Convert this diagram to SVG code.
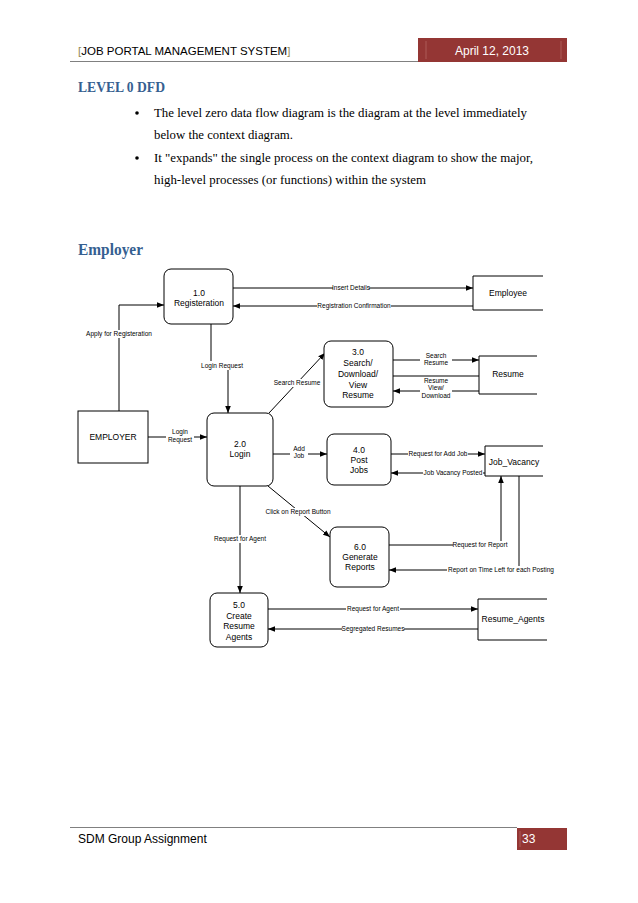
<svg xmlns="http://www.w3.org/2000/svg" width="638" height="903" viewBox="0 0 638 903">
<style>
.hdr{font-family:"Liberation Sans",Arial,sans-serif;font-size:12px;fill:#000}
.h1{font-family:"Liberation Serif","DejaVu Serif",serif;font-weight:bold;fill:#365F91}
.body{font-family:"Liberation Serif","Times New Roman",serif;font-size:13px;fill:#000}
.nt{font-family:"Liberation Sans",Arial,sans-serif;font-size:8.5px;fill:#000;text-anchor:middle}
.lb{font-family:"Liberation Sans",Arial,sans-serif;font-size:6.5px;fill:#000;text-anchor:middle}
.proc{fill:#fff;stroke:#000;stroke-width:1}
.ln{fill:none;stroke:#000;stroke-width:1}
.arr{fill:none;stroke:#000;stroke-width:1;marker-end:url(#ah)}
.bg{fill:#fff}
</style>
<defs>
<marker id="ah" viewBox="0 0 10 10" refX="10" refY="5" markerWidth="7" markerHeight="7" markerUnits="userSpaceOnUse" orient="auto">
<path d="M0,1 L10,5 L0,9 z" fill="#000"/>
</marker>
</defs>
<rect width="638" height="903" fill="#fff"/>
<g id="page-header">
<line x1="70" y1="61.5" x2="418" y2="61.5" stroke="#808080" stroke-width="1"/>
<text class="hdr" x="78" y="55" font-size="11.5" style="font-size:11.5px"><tspan fill="#948A54">[</tspan>JOB PORTAL MANAGEMENT SYSTEM<tspan fill="#948A54">]</tspan></text>
<rect x="418" y="38" width="149" height="24" fill="#943634"/>
<line x1="426" y1="41" x2="426" y2="59" stroke="#b76a68" stroke-width="0.7"/>
<line x1="561" y1="41" x2="561" y2="59" stroke="#b76a68" stroke-width="0.7"/>
<text class="hdr" x="492" y="55" text-anchor="middle" style="fill:#fff">April 12, 2013</text>
</g>
<g id="intro">
<text class="h1" x="78" y="92" font-size="15" textLength="87" lengthAdjust="spacingAndGlyphs">LEVEL 0 DFD</text>
<circle cx="137" cy="113" r="1.8" fill="#000"/>
<text class="body" x="154" y="117" textLength="373" lengthAdjust="spacingAndGlyphs">The level zero data flow diagram is the diagram at the level immediately</text>
<text class="body" x="154" y="139" textLength="139" lengthAdjust="spacingAndGlyphs">below the context diagram.</text>
<circle cx="137" cy="158" r="1.8" fill="#000"/>
<text class="body" x="154" y="162" textLength="379" lengthAdjust="spacingAndGlyphs">It "expands" the single process on the context diagram to show the major,</text>
<text class="body" x="154" y="184" textLength="272" lengthAdjust="spacingAndGlyphs">high-level processes (or functions) within the system</text>
<text class="h1" x="78" y="255" font-size="17" textLength="65" lengthAdjust="spacingAndGlyphs">Employer</text>
</g>
<g id="connectors">
<line class="arr" x1="233" y1="288" x2="473" y2="288"/>
<line class="arr" x1="473" y1="306" x2="233" y2="306"/>
<polyline class="arr" points="119,411 119,305 164,305"/>
<line class="ln" x1="211" y1="324" x2="211" y2="366"/>
<polyline class="arr" points="211,366 228,366 228,413"/>
<line class="arr" x1="148" y1="437" x2="207" y2="437"/>
<line class="arr" x1="269" y1="413" x2="325" y2="353"/>
<line class="arr" x1="393" y1="360" x2="479" y2="360"/>
<line class="ln" x1="393" y1="376" x2="479" y2="376"/>
<line class="arr" x1="479" y1="391" x2="393" y2="391"/>
<line class="arr" x1="273" y1="454" x2="327" y2="454"/>
<line class="arr" x1="391" y1="454" x2="485" y2="454"/>
<line class="arr" x1="485" y1="473" x2="391" y2="473"/>
<line class="arr" x1="268" y1="486" x2="330" y2="537"/>
<polyline class="arr" points="389,545 501,545 501,476"/>
<polyline class="arr" points="519,476 519,570 389,570"/>
<line class="arr" x1="240" y1="486" x2="240" y2="593"/>
<line class="arr" x1="268" y1="609" x2="478" y2="609"/>
<line class="arr" x1="478" y1="629" x2="268" y2="629"/>
</g>
<g id="labels">
<rect class="bg" x="333" y="284" width="36" height="7"/>
<text class="lb" x="351" y="290">Insert Details</text>
<rect class="bg" x="317" y="302" width="74" height="7"/>
<text class="lb" x="354" y="308">Registration Confirmation</text>
<rect class="bg" x="86" y="330" width="66" height="8"/>
<text class="lb" x="119" y="336">Apply for Registeration</text>
<rect class="bg" x="201" y="361" width="42" height="9"/>
<text class="lb" x="222" y="368">Login Request</text>
<rect class="bg" x="166" y="428" width="28" height="16"/>
<text class="lb" x="180" y="434">Login</text>
<text class="lb" x="180" y="442">Request</text>
<rect class="bg" x="274" y="379" width="48" height="8"/>
<text class="lb" x="297" y="385">Search Resume</text>
<rect class="bg" x="420" y="352" width="32" height="15"/>
<text class="lb" x="436" y="358">Search</text>
<text class="lb" x="436" y="365">Resume</text>
<rect class="bg" x="420" y="377" width="32" height="22"/>
<text class="lb" x="436" y="383">Resume</text>
<text class="lb" x="436" y="390">View/</text>
<text class="lb" x="436" y="398">Download</text>
<rect class="bg" x="290" y="444" width="18" height="16"/>
<text class="lb" x="299" y="451">Add</text>
<text class="lb" x="299" y="458">Job</text>
<rect class="bg" x="408" y="450" width="60" height="7"/>
<text class="lb" x="438" y="456">Request for Add Job</text>
<rect class="bg" x="423" y="469" width="60" height="7"/>
<text class="lb" x="453" y="475">Job Vacancy Posted</text>
<rect class="bg" x="264" y="508" width="68" height="8"/>
<text class="lb" x="298" y="514">Click on Report Button</text>
<rect class="bg" x="213" y="535" width="54" height="8"/>
<text class="lb" x="240" y="541">Request for Agent</text>
<rect class="bg" x="453" y="541" width="54" height="7"/>
<text class="lb" x="480" y="547">Request for Report</text>
<rect class="bg" x="447" y="566" width="108" height="7"/>
<text class="lb" x="501" y="572">Report on Time Left for each Posting</text>
<rect class="bg" x="346" y="605" width="54" height="7"/>
<text class="lb" x="373" y="611">Request for Agent</text>
<rect class="bg" x="342" y="625" width="62" height="7"/>
<text class="lb" x="373" y="631">Segregated Resumes</text>
</g>
<g id="p1">
<rect class="proc" x="164" y="269" width="69" height="55" rx="7"/>
<text class="nt" x="199" y="296">1.0</text>
<text class="nt" x="199" y="306">Registeration</text>
</g>
<g id="employee">
<polyline class="ln" points="543,276 473,276 473,310 543,310"/>
<text class="nt" x="508" y="296">Employee</text>
</g>
<g id="employer">
<rect class="proc" x="78" y="411" width="70" height="52"/>
<text class="nt" x="113" y="440">EMPLOYER</text>
</g>
<g id="p2">
<rect class="proc" x="207" y="413" width="66" height="73" rx="7"/>
<text class="nt" x="240" y="447">2.0</text>
<text class="nt" x="240" y="457">Login</text>
</g>
<g id="p3">
<rect class="proc" x="324" y="341" width="69" height="66" rx="7"/>
<text class="nt" x="358" y="355">3.0</text>
<text class="nt" x="358" y="366">Search/</text>
<text class="nt" x="358" y="377">Download/</text>
<text class="nt" x="358" y="388">View</text>
<text class="nt" x="358" y="398">Resume</text>
</g>
<g id="resume">
<polyline class="ln" points="537,356 479,356 479,394 537,394"/>
<text class="nt" x="508" y="377">Resume</text>
</g>
<g id="p4">
<rect class="proc" x="327" y="434" width="64" height="51" rx="7"/>
<text class="nt" x="359" y="453">4.0</text>
<text class="nt" x="359" y="463">Post</text>
<text class="nt" x="359" y="473">Jobs</text>
</g>
<g id="job-vacancy">
<polyline class="ln" points="543,446 485,446 485,476 543,476"/>
<text class="nt" x="514" y="465">Job_Vacancy</text>
</g>
<g id="p6">
<rect class="proc" x="330" y="527" width="59" height="60" rx="7"/>
<text class="nt" x="360" y="550">6.0</text>
<text class="nt" x="360" y="560">Generate</text>
<text class="nt" x="360" y="570">Reports</text>
</g>
<g id="p5">
<rect class="proc" x="210" y="593" width="58" height="54" rx="7"/>
<text class="nt" x="239" y="608">5.0</text>
<text class="nt" x="239" y="619">Create</text>
<text class="nt" x="239" y="629">Resume</text>
<text class="nt" x="239" y="640">Agents</text>
</g>
<g id="resume-agents">
<polyline class="ln" points="547,599 478,599 478,640 547,640"/>
<text class="nt" x="513" y="622">Resume_Agents</text>
</g>
<g id="page-footer">
<line x1="70" y1="827.5" x2="517" y2="827.5" stroke="#808080" stroke-width="1"/>
<text class="hdr" x="78" y="843">SDM Group Assignment</text>
<rect x="517" y="828" width="50" height="22" fill="#943634"/>
<line x1="520" y1="831" x2="520" y2="847" stroke="#b76a68" stroke-width="0.7"/>
<text class="hdr" x="522" y="843" style="fill:#fff">33</text>
</g>
</svg>
